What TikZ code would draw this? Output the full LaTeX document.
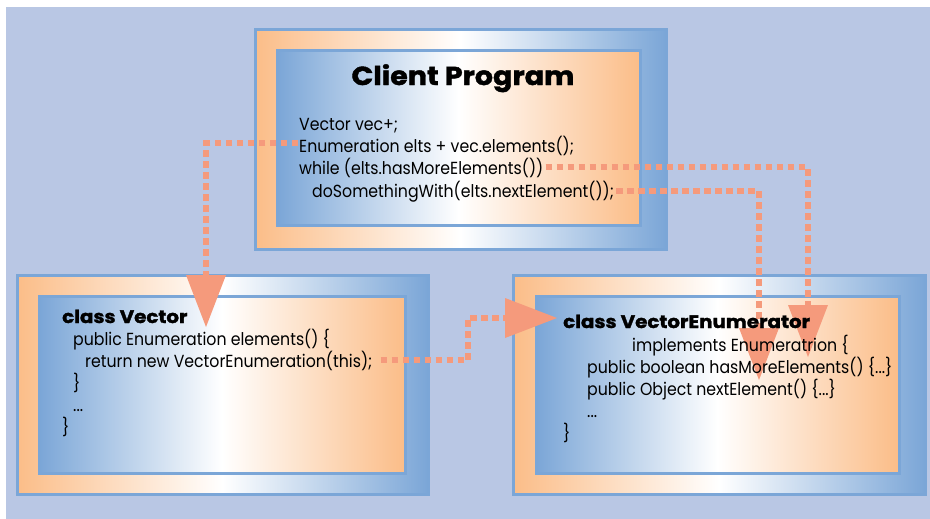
\documentclass[tikz,border=0pt]{standalone}
\usepackage{fontspec}
\setmainfont{Poppins}[FakeStretch=0.9]
\newfontfamily\headfont{Poppins}[BoldFeatures={FakeBold=1.6, FakeStretch=1.1}]
\usetikzlibrary{arrows.meta}
\definecolor{bgblue}{HTML}{B9C7E4}
\definecolor{frameblue}{HTML}{7BA6D7}
\definecolor{peach}{HTML}{FBBD88}
\definecolor{salmon}{HTML}{F59A7C}
\pgfdeclarelayer{boxes}
\pgfdeclarelayer{links}
\pgfsetlayers{boxes,links,main}
\begin{document}
\begin{tikzpicture}[x=1pt,y=-1pt,
  outerframe/.style={draw=frameblue, line width=3pt, inner sep=0pt,
    left color=peach, right color=frameblue, middle color=white},
  innerframe/.style={draw=frameblue, line width=3pt, inner sep=0pt,
    left color=frameblue, right color=peach, middle color=white},
  code/.style={anchor=base west, inner sep=0pt, text=black,
    font=\fontsize{17.5}{20}\selectfont},
  heading/.style={anchor=base west, inner sep=0pt, text=black,
    font=\headfont\fontsize{18}{21}\selectfont\bfseries},
  title/.style={anchor=base, inner sep=0pt, text=black,
    font=\headfont\fontsize{26}{29}\selectfont\bfseries},
  link/.style={draw=salmon, line width=6pt, dash pattern=on 6.5pt off 4.5pt,
    -{Triangle[length=52pt 0, width=40pt 0, line width=0pt 0]}}
]
\useasboundingbox (0,0) rectangle (930,519);

\begin{pgfonlayer}{boxes}
  \fill[bgblue] (6,7) rectangle (930,519);
  % client program frame
  \node[outerframe, minimum width=411pt, minimum height=219pt] (clientO) at (460.5,139.5) {};
  \node[innerframe, minimum width=363pt, minimum height=174pt] (clientI) at (458.5,138) {};
  % class Vector frame
  \node[outerframe, minimum width=411pt, minimum height=219pt] (vecO) at (222.5,384.5) {};
  \node[innerframe, minimum width=366pt, minimum height=177pt] (vecI) at (222,384.5) {};
  % class VectorEnumerator frame
  \node[outerframe, minimum width=412pt, minimum height=219pt] (enumO) at (719,384.5) {};
  \node[innerframe, minimum width=363pt, minimum height=177pt] (enumI) at (717.5,384.5) {};
\end{pgfonlayer}

% client program text
\node[title] (cp) at (463,85) {Client Program};
\node[code] (c1) at (299,130) {Vector vec+;};
\node[code] (c2) at (299,152) {Enumeration elts + vec.elements();};
\node[code] (c3) at (299,174) {while (elts.hasMoreElements())};
\node[code] (c4) at (312,197) {doSomethingWith(elts.nextElement());};

% class Vector text
\node[heading] (vt) at (62,323) {class Vector};
\node[code] (v1) at (73,345) {public Enumeration elements() \{};
\node[code] (v2) at (85,367) {return new VectorEnumeration(this);};
\node[code] (v3) at (73,389) {\}};
\node[code] (v4) at (73,411) {...};
\node[code] (v5) at (62,433) {\}};

% class VectorEnumerator text
\node[heading] (et) at (563,328) {class VectorEnumerator};
\node[code] (e1) at (632,351) {implements Enumeratrion \{};
\node[code] (e2) at (587,373) {public boolean hasMoreElements() \{...\}};
\node[code] (e3) at (587,395) {public Object nextElement() \{...\}};
\node[code] (e4) at (587,417) {...};
\node[code] (e5) at (563,439) {\}};

% arrow tips and bends
\coordinate (tipV) at (206,327);
\coordinate (bendE) at (468,318);
\coordinate (tipE) at (557,318);
\coordinate (tipHas) at (808,357);
\coordinate (tipNext) at (759,380);

\begin{pgfonlayer}{links}
  \draw[link] ([xshift=-1pt,yshift=2pt]c2.west) -| (tipV);
  \draw[link] ([xshift=8pt]v2.east) -| (bendE) -- (tipE);
  \draw[link] ([xshift=2pt]c3.east) -| (tipHas);
  \draw[link] ([xshift=2pt]c4.east) -| (tipNext);
\end{pgfonlayer}
\end{tikzpicture}
\end{document}
